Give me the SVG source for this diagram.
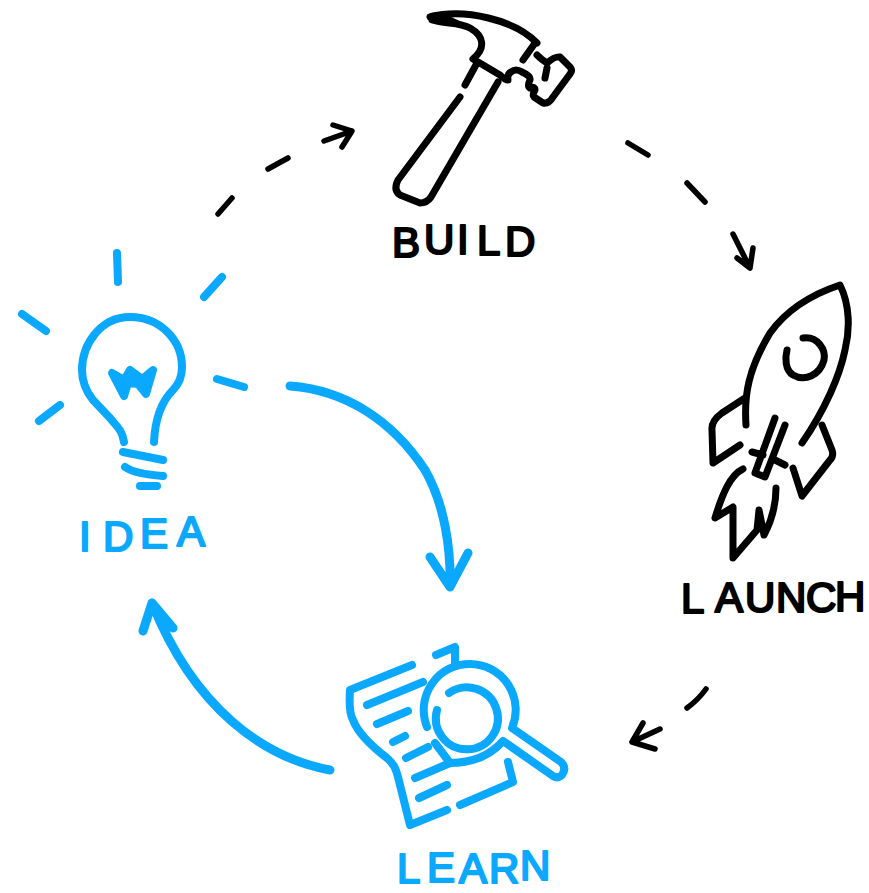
<svg xmlns="http://www.w3.org/2000/svg" width="869" height="893" viewBox="0 0 869 893">
<style>
.k{fill:none;stroke:#000;stroke-width:7;stroke-linecap:round;stroke-linejoin:round}
.b{fill:none;stroke:#0aa8ff;stroke-width:8;stroke-linecap:round;stroke-linejoin:round}
.d{fill:none;stroke:#000;stroke-width:5.5;stroke-linecap:round;stroke-linejoin:round}
.a{fill:none;stroke:#0aa8ff;stroke-width:9;stroke-linecap:round;stroke-linejoin:round}
text{font-family:"Liberation Sans",Arial,sans-serif;font-size:42px;stroke-width:2.2;stroke-linejoin:round}
.tk{fill:#000;stroke:#000}
.tb{fill:#0aa8ff;stroke:#0aa8ff}
</style>
<rect width="869" height="893" fill="#fff"/>
<g id="connectors">
<path class="d" d="M218 214L232 198M268 169L288 158M324 141L352 131M333 125L352 131L342 147"/>
<path class="d" d="M628 143L648 155M687 183L705 202M733 234L750 268M737 258L750 268L753 248"/>
<path class="d" d="M706 689Q698 700 687 708M660 729L632 742M643 723L632 742L655 749"/>
<path class="a" d="M290 386C345 390 392 420 425 470C445 505 451 550 450 587M430 557L450 587L468 553"/>
<path class="a" d="M330 770C265 758 195 710 152 603M143 631L152 603L173 628"/>
</g>
<g id="build">
<path class="k" d="M430 17C465 8 515 20 537 43M432 20C445 24 460 22 470 28C484 36 486 48 473 59L500 75Q505 80 508 80Q507 74 511 72Q516 68 522 72Q531 76 530 80Q527 86 530 88Q535 86 535 90Q532 95 534 97L543 103Q549 104 553 97L570 74Q573 70 570 67L560 57Q555 56 547 63Q542 60 537 55M547 68L545 78M523 60L535 43"/>
<path class="k" d="M477 63L465 85M460 97L398 180Q393 190 400 195L420 203Q427 203 431 197L498 82"/>
<path d="M430 13Q426 20 434 23L462 22L440 12Z" fill="#000"/>
<text class="tk"><tspan x="392" y="257">B</tspan><tspan x="424" y="254">U</tspan><tspan x="457" y="254">I</tspan><tspan x="477" y="255">L</tspan><tspan x="505" y="256">D</tspan></text>
</g>
<g id="launch">
<path class="k" d="M746 425C744 395 748 370 770 333C785 312 810 295 840 285C850 305 850 330 845 350C840 375 825 410 802 443"/>
<path class="k" d="M803 338C818 336 826 350 824 360C820 375 805 382 793 375C785 370 785 358 787 350"/>
<path class="k" d="M745 398L722 413Q711 421 712 430L713 463L740 445M822 425L832 450Q834 456 830 460L802 496L793 468"/>
<path class="k" d="M775 418L755 473L765 477L785 425M752 452L763 455M775 460L785 465"/>
<path class="k" d="M743 469C730 475 722 495 715 518L733 507L733 558L757 530L759 510L764 535C772 520 776 505 776 488"/>
<text class="tk"><tspan x="681" y="613">L</tspan><tspan x="715" y="612">A</tspan><tspan x="745" y="612">U</tspan><tspan x="776" y="612">N</tspan><tspan x="806" y="612">C</tspan><tspan x="835" y="611">H</tspan></text>
</g>
<g id="learn">
<path class="b" d="M412 665L350 690C349 705 350 715 353 720C358 733 370 745 387 758C395 765 396 770 398 777L410 825L447 810"/>
<path class="b" d="M367 705L423 682M377 724L408 711M393 742L405 736M406 758L428 747M415 778L450 763M419 798L447 785M460 805L513 782L508 762M436 655L455 647L455 665"/>
<path class="b" d="M427 727A46 46 0 1 1 512 728L561 762Q567 768 562 775Q558 779 553 776L503 741C488 758 470 763 450 763M450 763L435 743"/>
<path class="b" d="M449 693A31 31 0 1 1 437 710"/>
<text class="tb"><tspan x="397" y="883">L</tspan><tspan x="427" y="882">E</tspan><tspan x="459" y="883">A</tspan><tspan x="489" y="883">R</tspan><tspan x="520" y="880">N</tspan></text>
</g>
<g id="idea">
<path class="b" d="M117 253L118 282M222 277L204 297M22 314L46 331M60 405L39 421M217 379L244 387"/>
<path class="b" d="M124 442C122 430 118 428 110 418L93 400C85 390 82 380 82 370C82 345 100 317 130 317C160 317 182 340 182 367C182 378 178 385 173 390C160 403 155 420 154 442"/>
<path class="b" fill="#0aa8ff" style="fill:#0aa8ff" d="M112 373L124 396L128 383L138 384L146 394L153 370L142 379L130 370L124 380Z"/>
<path class="b" d="M123 452L163 460M125 467Q135 474 163 476M140 486L157 486"/>
<text class="tb"><tspan x="79" y="551">I</tspan><tspan x="103" y="551">D</tspan><tspan x="140" y="548">E</tspan><tspan x="177" y="546">A</tspan></text>
</g>
</svg>
